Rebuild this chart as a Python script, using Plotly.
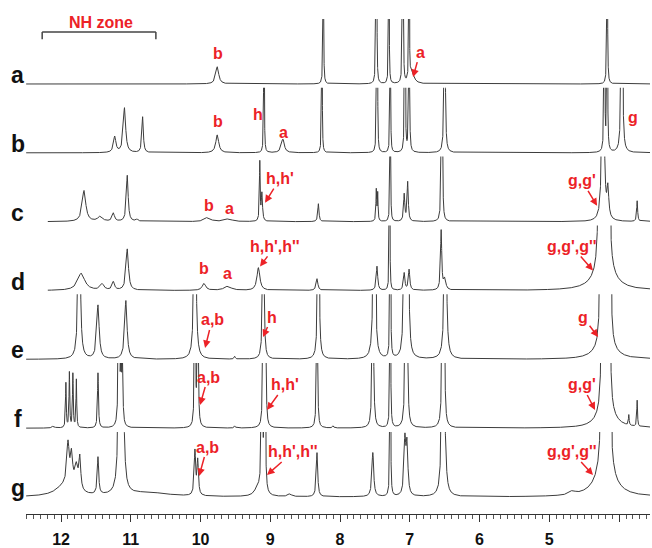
import numpy as np
import plotly.graph_objects as go

# ---------------- data ----------------
spectrum_names = ["a", "b", "c", "d", "e", "f", "g"]

# peak positions (ppm), heights (in units of one trace spacing), half-widths (ppm)
a_ppm = [9.76, 8.24, 7.485, 7.475, 7.30, 7.105, 7.095, 7.01, 6.97, 4.17]
a_h   = [0.25, 5, 4, 4, 5, 4, 4, 5, 0.15, 5]
a_w   = [0.025, 0.003, 0.003, 0.003, 0.003, 0.003, 0.003, 0.003, 0.04, 0.0035]

b_ppm = [11.23, 11.09, 10.83, 9.76, 9.09, 8.82, 8.26, 7.475, 7.465, 7.28, 7.07, 7.01, 6.50, 4.21, 4.17, 3.96]
b_h   = [0.23, 0.65, 0.52, 0.26, 5, 0.2, 5, 4, 4, 5, 5, 5, 5, 5, 5, 5]
b_w   = [0.02, 0.02, 0.012, 0.025, 0.003, 0.025, 0.003, 0.003, 0.003, 0.003, 0.004, 0.004, 0.006, 0.004, 0.004, 0.008]

c_ppm = [11.67, 11.44, 11.25, 11.05, 10.91, 9.90, 9.60, 9.15, 9.12, 8.31, 7.48, 7.46, 7.28,
         7.08, 7.03, 6.545, 6.535, 4.23, 4.16, 3.74]
c_h   = [0.45, 0.07, 0.12, 0.67, 0.03, 0.06, 0.04, 0.85, 0.4, 0.26, 0.45, 0.4, 5,
         0.39, 0.57, 4, 4, 5, 0.42, 0.3]
c_w   = [0.03, 0.04, 0.02, 0.015, 0.02, 0.05, 0.06, 0.006, 0.01, 0.01, 0.006, 0.006, 0.003,
         0.01, 0.01, 0.004, 0.004, 0.012, 0.015, 0.008]

d_ppm = [11.71, 11.41, 11.25, 11.05, 9.95, 9.61, 9.17, 8.33, 7.47, 7.29, 7.08, 7.01, 6.55, 6.50,
         4.28, 4.215, 4.15, 4.21]
d_h   = [0.25, 0.09, 0.12, 0.6, 0.1, 0.06, 0.33, 0.17, 0.35, 5, 0.25, 0.3, 0.86, 0.16,
         5, 3, 5, 0.3]
d_w   = [0.06, 0.03, 0.02, 0.02, 0.03, 0.06, 0.025, 0.015, 0.012, 0.003, 0.012, 0.012, 0.01, 0.02,
         0.01, 0.025, 0.01, 0.15]

e_ppm = [11.74, 11.47, 11.07, 10.08, 9.51, 9.10, 8.31, 7.51, 7.28, 7.08, 7.03, 6.49,
         4.26, 4.195, 4.13, 4.20]
e_h   = [5, 0.78, 0.85, 5, 0.04, 5, 5, 5, 5, 2, 5, 5,
         5, 3, 5, 0.25]
e_w   = [0.011, 0.02, 0.02, 0.011, 0.01, 0.007, 0.008, 0.011, 0.004, 0.012, 0.01, 0.011,
         0.008, 0.02, 0.008, 0.12]

f_ppm = [12.11, 11.93, 11.88, 11.83, 11.78, 11.47, 11.17, 11.14, 11.12, 10.08, 10.04, 9.51, 9.10, 9.07,
         8.33, 8.10, 7.53, 7.28, 7.06, 7.04, 6.53, 6.51, 4.24, 4.19, 4.14, 4.19, 3.86, 3.74]
f_h   = [0.03, 0.65, 0.8, 0.78, 0.7, 0.8, 5, 0.9, 0.9, 5, 5, 0.03, 5, 5,
         5, 0.03, 5, 5, 5, 5, 5, 5, 5, 3, 5, 0.25, 0.15, 0.38]
f_w   = [0.02, 0.006, 0.006, 0.006, 0.006, 0.008, 0.006, 0.008, 0.008, 0.005, 0.005, 0.01, 0.005, 0.005,
         0.005, 0.01, 0.007, 0.004, 0.006, 0.006, 0.006, 0.006, 0.008, 0.02, 0.008, 0.12, 0.006, 0.006]

g_ppm = [11.95, 11.90, 11.85, 11.78, 11.73, 11.47, 11.16, 11.12, 10.75, 10.08, 10.04, 9.18, 9.12, 9.08,
         8.72, 8.33, 7.53, 7.28, 7.07, 7.04, 6.53, 6.50, 4.67, 4.24, 4.19, 4.14, 4.20]
g_h   = [0.15, 0.6, 0.45, 0.35, 0.45, 0.54, 5, 5, 0.06, 0.64, 0.5, 0.12, 5, 5,
         0.04, 0.64, 0.64, 5, 0.78, 0.7, 5, 0.8, 0.05, 5, 3, 5, 0.35]
g_w   = [0.15, 0.02, 0.02, 0.03, 0.015, 0.012, 0.012, 0.012, 0.35, 0.012, 0.012, 0.05, 0.006, 0.006,
         0.03, 0.012, 0.015, 0.004, 0.015, 0.015, 0.01, 0.02, 0.05, 0.01, 0.025, 0.01, 0.15]

# left end of each recorded trace (ppm)
start_ppm = [12.5, 12.5, 12.19, 12.19, 12.5, 12.5, 12.5]

tick_vals = [12, 11, 10, 9, 8, 7, 6, 5, 4]
tick_text = ["12", "11", "10", "9", "8", "7", "6", "5", ""]

# red labels: (spectrum, text, ppm, height above baseline, arrow dx px, arrow dy px)
labels = [
    ("a", "b", 9.75, 0.45, None, None),
    ("a", "a", 6.953, 0.10, 7, -25),
    ("b", "b", 9.75, 0.45, None, None),
    ("b", "h", 9.176, 0.55, None, None),
    ("b", "a", 8.817, 0.30, None, None),
    ("b", "g", 3.80, 0.51, None, None),
    ("c", "b", 9.878, 0.23, None, None),
    ("c", "a", 9.59, 0.19, None, None),
    ("c", "h,h'", 9.075, 0.275, 15, -24),
    ("c", "g,g'", 4.315, 0.23, -15, -25),
    ("d", "b", 9.95, 0.32, None, None),
    ("d", "a", 9.62, 0.245, None, None),
    ("d", "h,h',h''", 9.147, 0.35, 15, -20),
    ("d", "g,g',g''", 4.373, 0.29, -21, -24),
    ("e", "a,b", 9.935, 0.165, 7, -28),
    ("e", "h", 9.104, 0.324, 9, -20),
    ("e", "g", 4.30, 0.324, -15, -20),
    ("f", "a,b", 10.007, 0.336, 8, -28),
    ("f", "h,h'", 9.047, 0.264, 18, -25),
    ("f", "g,g'", 4.344, 0.264, -13, -25),
    ("g", "a,b", 10.02, 0.305, 8, -29),
    ("g", "h,h',h''", 9.047, 0.32, 26, -23),
    ("g", "g,g',g''", 4.373, 0.32, -21, -23),
]

# ---------------- build figure ----------------
peaks = {
    "a": (a_ppm, a_h, a_w), "b": (b_ppm, b_h, b_w), "c": (c_ppm, c_h, c_w),
    "d": (d_ppm, d_h, d_w), "e": (e_ppm, e_h, e_w), "f": (f_ppm, f_h, f_w),
    "g": (g_ppm, g_h, g_w),
}
n = len(spectrum_names)
offsets = {name: (n - 1 - i) for i, name in enumerate(spectrum_names)}
CLIP = 0.945
LOW = -0.2
Y0, Y1 = -0.247, 7.22
LINE = "#3c3c3c"
RED = "#ec2227"
FONT = "Liberation Sans, Arial, sans-serif"


def frac(v):
    return (v - Y0) / (Y1 - Y0)


fig = go.Figure()
layout_axes = {}
for i, name in enumerate(spectrum_names):
    ppm, h, w = peaks[name]
    x = np.arange(3.50, start_ppm[i], 0.0005)
    y = np.zeros_like(x)
    for p, hh, ww in zip(ppm, h, w):
        y += hh * ww ** 2 / ((x - p) ** 2 + ww ** 2)
    k = i + 2
    o = offsets[name]
    layout_axes[f"yaxis{k}"] = dict(domain=[max(0.0, frac(o + LOW)), frac(o + CLIP)],
                                    range=[LOW, CLIP], anchor="x", visible=False,
                                    showgrid=False, zeroline=False, fixedrange=True)
    fig.add_trace(go.Scatter(x=x, y=y, mode="lines", xaxis="x", yaxis=f"y{k}",
                             line=dict(color=LINE, width=1), hoverinfo="skip",
                             showlegend=False))

annotations = []
for name in spectrum_names:
    annotations.append(dict(
        x=-0.013, xref="paper", y=offsets[name] + 0.13, yref="y",
        text=f"<b>{name}</b>", showarrow=False, xanchor="center", yanchor="middle",
        font=dict(family=FONT, size=23, color="#111111")))

for spec, txt, px, dy, ax, ay in labels:
    d = dict(x=px, y=offsets[spec] + dy, xref="x", yref="y",
             text=f"<b>{txt}</b>", font=dict(family=FONT, size=16, color=RED))
    if ax is None:
        d.update(showarrow=False)
    else:
        d.update(showarrow=True, ax=ax, ay=ay, arrowcolor=RED, arrowwidth=1.5,
                 arrowhead=2, arrowsize=1, standoff=0, startstandoff=0)
    annotations.append(d)

# NH zone bracket
annotations.append(dict(x=11.43, y=6.90, xref="x", yref="y", text="<b>NH zone</b>",
                        showarrow=False, font=dict(family=FONT, size=16, color=RED)))
annotations.append(dict(x=3.80, y=-0.655, xref="x", yref="y", text="<b>ppm</b>",
                        showarrow=False, font=dict(family=FONT, size=16, color="#111111")))

shapes = [
    dict(type="line", x0=12.27, x1=10.64, y0=6.755, y1=6.755, xref="x", yref="y",
         line=dict(color="#444444", width=1.5)),
    dict(type="line", x0=12.27, x1=12.27, y0=6.755, y1=6.65, xref="x", yref="y",
         line=dict(color="#444444", width=1.5)),
    dict(type="line", x0=10.64, x1=10.64, y0=6.755, y1=6.65, xref="x", yref="y",
         line=dict(color="#444444", width=1.5)),
]

fig.update_layout(
    width=652, height=548,
    margin=dict(l=26, r=2, t=0, b=34),
    paper_bgcolor="white", plot_bgcolor="white",
    annotations=annotations, shapes=shapes,
    xaxis=dict(range=[12.502, 3.556], anchor="y", showgrid=False, zeroline=False,
               showline=True, linecolor="#333333", linewidth=1,
               ticks="outside", ticklen=7, tickcolor="#333333", tickwidth=1,
               tickvals=tick_vals, ticktext=tick_text, ticklabelstandoff=4,
               tickfont=dict(family=FONT, size=16, color="#111111", weight="bold"),
               minor=dict(dtick=0.1, ticks="outside", ticklen=4, tickcolor="#555555")),
    yaxis=dict(range=[Y0, Y1], domain=[0, 1], visible=False, showgrid=False, zeroline=False),
    **layout_axes,
)

fig.write_html("out.html")
